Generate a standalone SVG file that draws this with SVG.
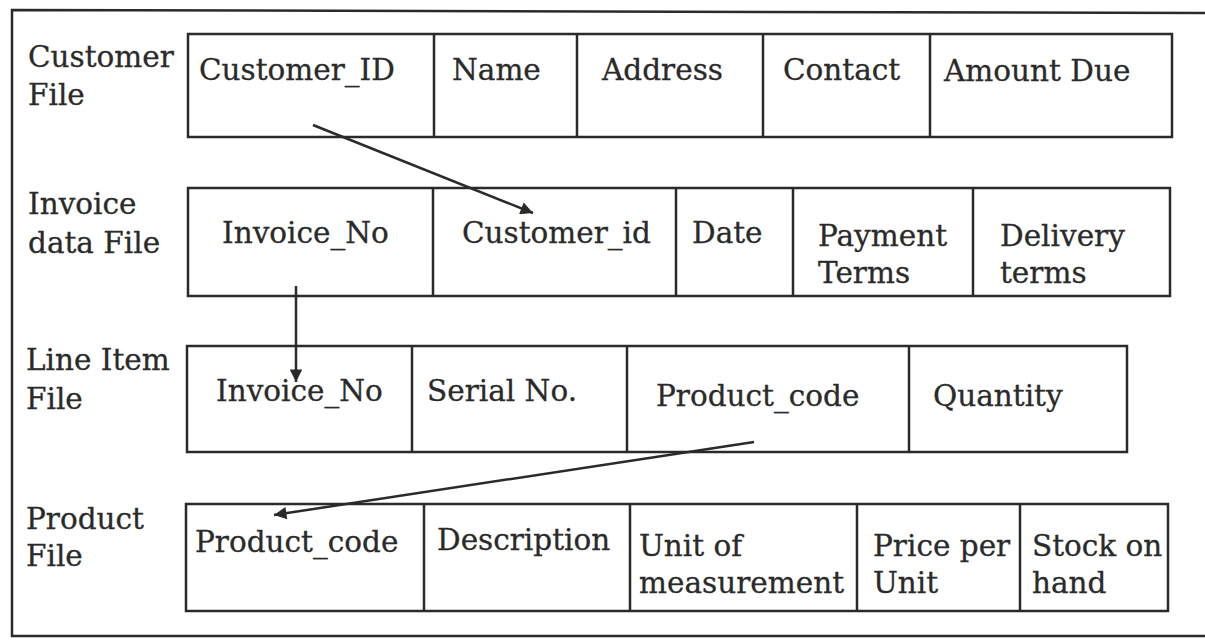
<svg xmlns="http://www.w3.org/2000/svg" width="1205" height="640" viewBox="0 0 1205 640">
<defs>
<style>
.t{font-family:"DejaVu Serif","Liberation Serif",serif;font-size:29.5px;fill:#2a2a2a;stroke:#2a2a2a;stroke-width:0.3}
.b{fill:none;stroke:#2a2a2a;stroke-width:2.5}
.c{stroke:#2a2a2a;stroke-width:2.5;fill:none}
</style>
<marker id="ah" viewBox="0 0 10 10" refX="10" refY="5" markerWidth="8" markerHeight="5" markerUnits="strokeWidth" orient="auto">
<path d="M0,0 L10,5 L0,10 z" fill="#2a2a2a"/>
</marker>
</defs>
<rect width="1205" height="640" fill="#ffffff"/>
<path class="b" d="M1210,13 L12,10 L12,636 L1210,636"/>

<g id="customer-file">
<text class="t" x="28" y="67">Customer</text>
<text class="t" x="28" y="105">File</text>
<rect class="b" x="188" y="34" width="984" height="103"/>
<path class="b" d="M434,34V137M577,34V137M763,34V137M930,34V137"/>
<text class="t" x="199" y="80">Customer_ID</text>
<text class="t" x="452" y="80">Name</text>
<text class="t" x="602" y="80">Address</text>
<text class="t" x="783" y="80">Contact</text>
<text class="t" x="944" y="81">Amount Due</text>
</g>

<g id="invoice-file">
<text class="t" x="28" y="214">Invoice</text>
<text class="t" x="28" y="253">data File</text>
<rect class="b" x="188" y="188" width="982" height="108"/>
<path class="b" d="M433,188V296M676,188V296M793,188V296M973,188V296"/>
<text class="t" x="222" y="243">Invoice_No</text>
<text class="t" x="462" y="243">Customer_id</text>
<text class="t" x="692" y="243">Date</text>
<text class="t" x="818" y="246">Payment</text>
<text class="t" x="818" y="283">Terms</text>
<text class="t" x="1000" y="246">Delivery</text>
<text class="t" x="1000" y="283">terms</text>
</g>

<g id="line-item-file">
<text class="t" x="26" y="370">Line Item</text>
<text class="t" x="26" y="409">File</text>
<rect class="b" x="187" y="346" width="940" height="106"/>
<path class="b" d="M412,346V452M627,346V452M909,346V452"/>
<text class="t" x="216" y="401">Invoice_No</text>
<text class="t" x="427" y="401">Serial No.</text>
<text class="t" x="656" y="406">Product_code</text>
<text class="t" x="933" y="406">Quantity</text>
</g>

<g id="product-file">
<text class="t" x="26" y="529">Product</text>
<text class="t" x="26" y="566">File</text>
<rect class="b" x="186" y="504" width="982" height="107"/>
<path class="b" d="M424,504V611M630,504V611M857,504V611M1020,504V611"/>
<text class="t" x="195" y="552">Product_code</text>
<text class="t" x="437" y="550">Description</text>
<text class="t" x="639" y="556">Unit of</text>
<text class="t" x="639" y="593">measurement</text>
<text class="t" x="873" y="556">Price per</text>
<text class="t" x="873" y="593">Unit</text>
<text class="t" x="1032" y="556">Stock on</text>
<text class="t" x="1032" y="593">hand</text>
</g>

<g id="connectors">
<line class="c" x1="313" y1="125" x2="533" y2="213" marker-end="url(#ah)"/>
<line class="c" x1="296" y1="286" x2="296" y2="382" marker-end="url(#ah)"/>
<line class="c" x1="754" y1="442" x2="274" y2="515" marker-end="url(#ah)"/>
</g>
</svg>
